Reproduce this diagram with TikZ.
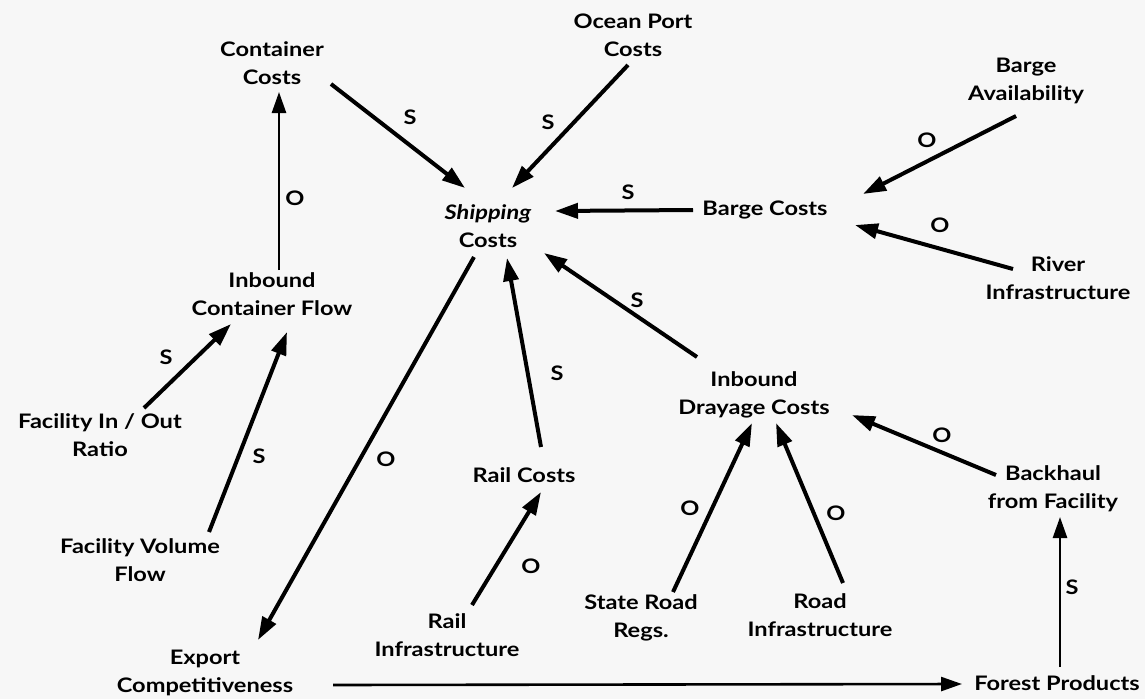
\documentclass[tikz,border=0pt]{standalone}
\usepackage{fontspec}
\setmainfont{Lato}[BoldFont={* Bold},BoldItalicFont={* Bold Italic},FakeStretch=1.18]
\usetikzlibrary{arrows.meta,calc}
\definecolor{bg}{HTML}{F7F7F7}
\tikzset{
  lbl/.style={font=\bfseries\fontsize{20}{28}\selectfont, align=center, inner sep=0pt, text=black},
  sgn/.style={font=\bfseries\fontsize{20}{28}\selectfont, inner sep=0pt},
  arr/.style={line width=4pt, -{Triangle[length=23pt,width=15pt]}},
  arrthin/.style={line width=2.6pt, -{Triangle[length=21pt,width=14pt]}},
}
\begin{document}
\begin{tikzpicture}[x=1pt,y=-1pt]
\fill[bg] (0,0) rectangle (1145,699);
\useasboundingbox (0,0) rectangle (1145,699);
% nodes
\node[lbl] (cc) at (272,63) {Container\\Costs};
\node[lbl] (op) at (633,35) {Ocean Port\\Costs};
\node[lbl] (sc) at (488,226) {\textit{Shipping}\\Costs};
\node[lbl] (bc) at (765,210) {Barge Costs};
\node[lbl] (ba) at (1026,81) {Barge\\Availability};
\node[lbl] (ri) at (1058,278) {River\\Infrastructure};
\node[lbl] (icf) at (272,294) {Inbound\\Container Flow};
\node[lbl] (fio) at (100,435) {Facility In / Out\\Ratio};
\node[lbl] (fvf) at (140,560) {Facility Volume\\Flow};
\node[lbl] (ec) at (205,673) {Export\\Competitiveness};
\node[lbl] (rc) at (524,475) {Rail Costs};
\node[lbl] (rinf) at (447,635) {Rail\\Infrastructure};
\node[lbl] (idc) at (754,395) {Inbound\\Drayage Costs};
\node[lbl] (srr) at (641,618) {State Road\\Regs.};
\node[lbl] (rdi) at (820,615) {Road\\Infrastructure};
\node[lbl] (bf) at (1053,489) {Backhaul\\from Facility};
\node[lbl] (fp) at (1057,683) {Forest Products};
% connectors
\draw[arr] ($(cc)+(59,21)$) -- ($(sc)+(-23,-38)$);
\draw[arr] ($(op)+(-5,30)$) -- ($(sc)+(24,-38)$);
\draw[arr] ($(bc)+(-72,0)$) -- ($(sc)+(67,-15)$);
\draw[arr] ($(ba)+(-10,35)$) -- ($(bc)+(98,-16)$);
\draw[arr] ($(ri)+(-45,-9)$) -- ($(bc)+(90,15)$);
\draw[arrthin] ($(icf)+(7,-24)$) -- ($(cc)+(7,29)$);
\draw[arr] ($(fio)+(44,-27)$) -- ($(icf)+(-41,30)$);
\draw[arr] ($(fvf)+(69,-28)$) -- ($(icf)+(15,38)$);
\draw[arr] ($(sc)+(-14,31)$) -- ($(ec)+(53,-33)$);
\draw[arr] ($(rc)+(17,-28)$) -- ($(sc)+(19,32)$);
\draw[arr] ($(idc)+(-57,-38)$) -- ($(sc)+(56,27)$);
\draw[arr] ($(rinf)+(25,-30)$) -- ($(rc)+(17,17)$);
\draw[arr] ($(srr)+(32,-26)$) -- ($(idc)+(-2,28)$);
\draw[arr] ($(rdi)+(23,-32)$) -- ($(idc)+(22,28)$);
\draw[arr] ($(bf)+(-57,-14)$) -- ($(idc)+(98,20)$);
\draw[arrthin] ($(fp)+(3,-16)$) -- ($(bf)+(7,28)$);
\draw[arrthin] ($(ec)+(128,12)$) -- ($(fp)+(-95,1)$);
% polarity labels
\node[sgn] (s1) at (410,117) {S};
\node[sgn] (s2) at (548,122) {S};
\node[sgn] (s3) at (628,192) {S};
\node[sgn] (s4) at (927,140) {O};
\node[sgn] (s5) at (940,225) {O};
\node[sgn] (s6) at (295,198) {O};
\node[sgn] (s7) at (166,357) {S};
\node[sgn] (s8) at (259,456) {S};
\node[sgn] (s9) at (386,459) {O};
\node[sgn] (s10) at (557,373) {S};
\node[sgn] (s11) at (637,300) {S};
\node[sgn] (s12) at (531,566) {O};
\node[sgn] (s13) at (690,508) {O};
\node[sgn] (s14) at (836,513) {O};
\node[sgn] (s15) at (942,435) {O};
\node[sgn] (s16) at (1072,587) {S};
\end{tikzpicture}
\end{document}
